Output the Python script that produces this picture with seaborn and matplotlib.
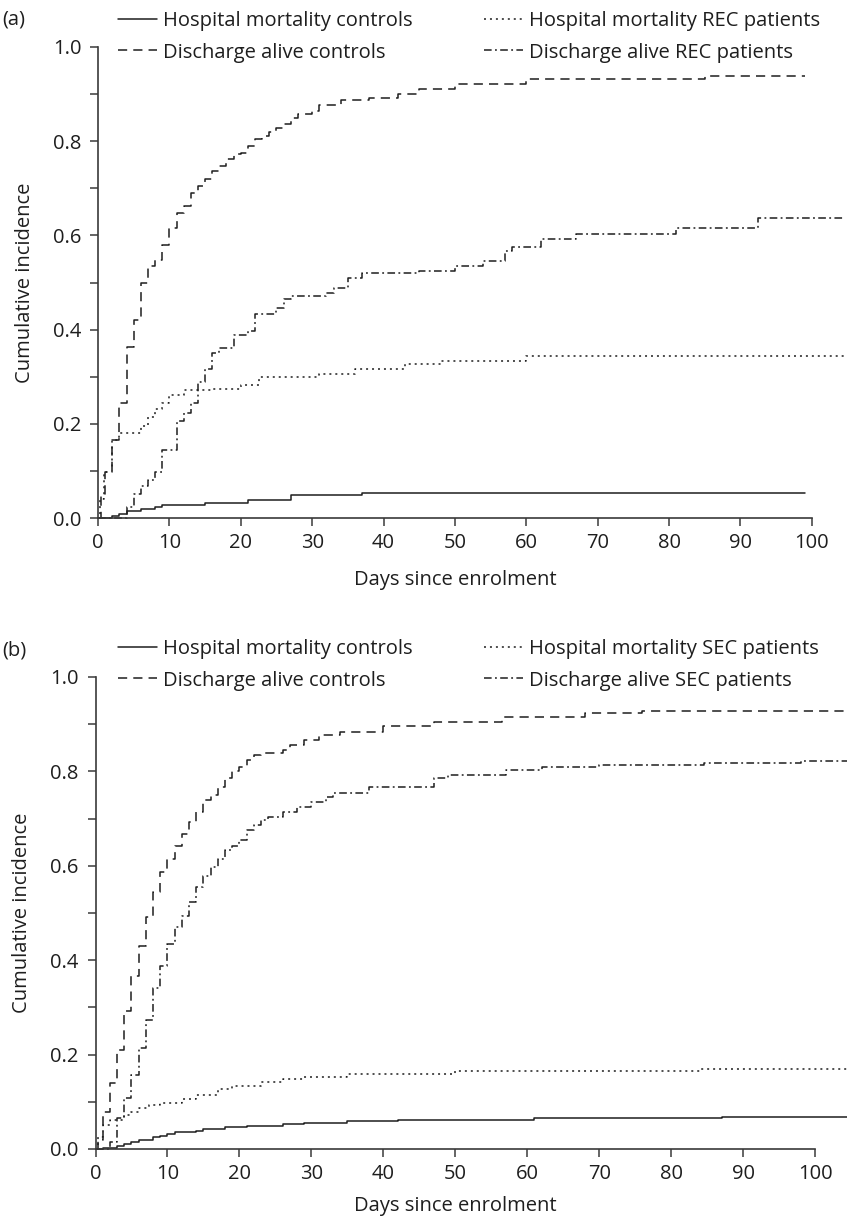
import matplotlib
matplotlib.use('Agg')
import matplotlib.pyplot as plt
import matplotlib.lines as mlines
import pandas as pd
import seaborn as sns

# Panel (a): REC patients vs controls (cumulative incidence, step curves)
a_mort_ctrl_days = [0, 2, 3, 4, 6, 8, 9, 15, 21, 27, 37, 99]
a_mort_ctrl_vals = [0, 0.004, 0.008, 0.015, 0.019, 0.024, 0.028, 0.031, 0.038, 0.049, 0.053, 0.053]

a_dis_ctrl_days = [0, 0.4, 1, 2, 3, 4, 5, 6, 7, 8, 9, 10, 11, 12, 13, 14, 15, 16, 17, 18, 19, 20,
                   21, 22, 23, 24, 25, 26, 27, 28, 30, 31, 34, 38, 42, 45, 50, 60, 85, 99]
a_dis_ctrl_vals = [0, 0.05, 0.097, 0.165, 0.245, 0.363, 0.42, 0.50, 0.534, 0.548, 0.58, 0.616, 0.648,
                   0.662, 0.69, 0.705, 0.72, 0.737, 0.748, 0.762, 0.773, 0.776, 0.79, 0.805, 0.812,
                   0.819, 0.828, 0.837, 0.849, 0.858, 0.865, 0.876, 0.888, 0.892, 0.90, 0.91, 0.922,
                   0.933, 0.938, 0.938]

a_mort_pat_days = [0, 0.3, 0.9, 2, 3, 6, 7, 8, 9, 10, 12, 16, 20, 22.5, 31, 36, 43, 48, 60, 104.5]
a_mort_pat_vals = [0, 0.04, 0.097, 0.165, 0.18, 0.195, 0.214, 0.232, 0.245, 0.262, 0.271, 0.274,
                   0.283, 0.30, 0.306, 0.316, 0.327, 0.334, 0.344, 0.344]

a_dis_pat_days = [0, 4, 5, 6, 7, 8, 9, 11, 12, 13, 14, 15, 16, 17, 19, 21, 22, 25, 26, 27, 32, 33,
                  35, 37, 45, 50, 54, 57, 58, 62, 67, 81, 92.5, 104.5]
a_dis_pat_vals = [0, 0.024, 0.052, 0.068, 0.08, 0.097, 0.145, 0.206, 0.222, 0.244, 0.289, 0.316,
                  0.35, 0.361, 0.389, 0.396, 0.434, 0.445, 0.464, 0.472, 0.478, 0.489, 0.51, 0.52,
                  0.525, 0.535, 0.545, 0.567, 0.575, 0.592, 0.603, 0.615, 0.637, 0.637]

# Panel (b): SEC patients vs controls
b_mort_ctrl_days = [0, 1, 3, 4, 5, 6, 8, 9, 10, 11, 14, 15, 18, 21, 26, 29, 35, 42, 61, 87, 104.5]
b_mort_ctrl_vals = [0, 0.003, 0.007, 0.011, 0.014, 0.02, 0.025, 0.028, 0.032, 0.035, 0.039, 0.042,
                    0.046, 0.049, 0.053, 0.056, 0.06, 0.062, 0.065, 0.068, 0.068]

b_dis_ctrl_days = [0, 0.3, 1, 2, 3, 4, 5, 6, 7, 8, 9, 10, 11, 12, 13, 14, 15, 16, 17, 18, 19, 20,
                   21, 22, 23, 26, 27, 29, 31, 34, 40, 47, 56.5, 68, 76, 104.5]
b_dis_ctrl_vals = [0, 0.019, 0.079, 0.14, 0.21, 0.292, 0.367, 0.43, 0.492, 0.545, 0.587, 0.615,
                   0.643, 0.668, 0.693, 0.714, 0.739, 0.75, 0.767, 0.785, 0.80, 0.81, 0.824, 0.835,
                   0.838, 0.845, 0.856, 0.866, 0.877, 0.884, 0.896, 0.905, 0.916, 0.923, 0.927, 0.927]

b_mort_pat_days = [0, 0.3, 1, 2, 4, 5, 6, 7.5, 9, 12, 14, 17, 19, 23, 26, 29, 35, 50, 84, 104.5]
b_mort_pat_vals = [0, 0.026, 0.051, 0.062, 0.072, 0.079, 0.086, 0.093, 0.098, 0.106, 0.114, 0.127,
                   0.133, 0.143, 0.149, 0.153, 0.158, 0.166, 0.169, 0.169]

b_dis_pat_days = [0, 2, 3, 4, 5, 6, 7, 8, 9, 10, 11, 12, 13, 14, 15, 16, 17, 18, 19, 20, 21, 22, 23,
                  24, 26, 28, 30, 32, 33, 38, 47, 49, 57, 62, 70, 84.5, 98, 104.5]
b_dis_pat_vals = [0, 0.015, 0.065, 0.108, 0.157, 0.214, 0.274, 0.342, 0.388, 0.434, 0.47, 0.494,
                  0.523, 0.555, 0.579, 0.597, 0.615, 0.633, 0.641, 0.654, 0.675, 0.686, 0.696, 0.704,
                  0.714, 0.725, 0.735, 0.746, 0.755, 0.768, 0.785, 0.792, 0.803, 0.809, 0.814, 0.818,
                  0.823, 0.823]

labels_a = ['Hospital mortality controls', 'Discharge alive controls',
            'Hospital mortality REC patients', 'Discharge alive REC patients']
labels_b = ['Hospital mortality controls', 'Discharge alive controls',
            'Hospital mortality SEC patients', 'Discharge alive SEC patients']
x_ticks = list(range(0, 101, 10))
y_major = [0.0, 0.2, 0.4, 0.6, 0.8, 1.0]
y_minor = [0.1, 0.3, 0.5, 0.7, 0.9]

keys = ['mort_ctrl', 'dis_ctrl', 'mort_pat', 'dis_pat']
dash_map = {'mort_ctrl': '', 'dis_ctrl': (6, 4), 'mort_pat': (1.3, 2.6), 'dis_pat': (5, 2.2, 1.2, 2.2)}
ink = '#1e1e1e'
axis_col = '#3a3a3a'
fs = 14.5


def long_frame(series):
    parts = []
    for key, (days, vals) in zip(keys, series):
        parts.append(pd.DataFrame({'day': days, 'value': vals, 'series': key}))
    return pd.concat(parts, ignore_index=True)


df_a = long_frame([(a_mort_ctrl_days, a_mort_ctrl_vals), (a_dis_ctrl_days, a_dis_ctrl_vals),
                   (a_mort_pat_days, a_mort_pat_vals), (a_dis_pat_days, a_dis_pat_vals)])
df_b = long_frame([(b_mort_ctrl_days, b_mort_ctrl_vals), (b_dis_ctrl_days, b_dis_ctrl_vals),
                   (b_mort_pat_days, b_mort_pat_vals), (b_dis_pat_days, b_dis_pat_vals)])

sns.set_style('ticks')
plt.rcParams['font.family'] = ['Open Sans', 'DejaVu Sans']
plt.rcParams['font.size'] = fs
plt.rcParams['text.color'] = ink

W, H = 847, 1219
fig = plt.figure(figsize=(W / 100, H / 100), dpi=100)
fig.patch.set_facecolor('white')

ax_a = fig.add_axes([98 / W, 1 - 518 / H, 746 / W, 471 / H])
ax_b = fig.add_axes([95.5 / W, 1 - 1149 / H, 752 / W, 472 / H])

panels = [(ax_a, df_a, labels_a, '(a)', 20, 37, -0.11), (ax_b, df_b, labels_b, '(b)', 650, 665, -0.1)]

for ax, df, labels, tag, tag_y, leg_y, xlab_y in panels:
    sns.lineplot(data=df, x='day', y='value', style='series', style_order=keys, dashes=dash_map,
                 color=ink, lw=1.1, drawstyle='steps-post', estimator=None, sort=False,
                 legend=False, ax=ax, clip_on=False)

    ax.set_xlim(0, 104.5)
    ax.set_ylim(0, 1)
    sns.despine(ax=ax)
    ax.spines['left'].set_bounds(0, 1)
    ax.spines['bottom'].set_bounds(0, 100)
    for s in ['left', 'bottom']:
        ax.spines[s].set_color(axis_col)
        ax.spines[s].set_linewidth(1.2)

    ax.set_xticks(x_ticks)
    ax.set_yticks(y_major)
    ax.set_yticks(y_minor, minor=True)
    ax.set_yticklabels([f'{t:.1f}' for t in y_major])
    ax.tick_params(which='both', direction='out', length=6, width=1.1, color=axis_col,
                   labelsize=fs, labelcolor=ink)
    ax.tick_params(axis='y', which='both', pad=6)
    ax.tick_params(axis='x', pad=5)

    ax.set_xlabel('Days since enrolment', fontsize=fs, color=ink)
    ax.set_ylabel('Cumulative incidence', fontsize=fs, color=ink)
    ax.xaxis.set_label_coords(50 / 104.5, xlab_y)
    ax.yaxis.set_label_coords(-0.085, 0.5)

    # two legend columns placed separately
    handles = [mlines.Line2D([], [], color=ink, lw=1.1,
                             dashes=dash_map[k] if dash_map[k] else (None, None)) for k in keys]
    for i, x0 in enumerate([118, 484]):
        leg = ax.legend(handles[i * 2:i * 2 + 2], labels[i * 2:i * 2 + 2], loc='center left',
                        bbox_to_anchor=(x0 / W, 1 - leg_y / H), bbox_transform=fig.transFigure,
                        frameon=False, borderpad=0, borderaxespad=0, handlelength=1.95,
                        handletextpad=0.3, labelspacing=0.55, fontsize=fs)
        if i == 0:
            ax.add_artist(leg)

    fig.text(2 / W, 1 - tag_y / H, tag, ha='left', va='center', fontsize=fs, color=ink)

fig.savefig('out.png', dpi=100, facecolor='white')
